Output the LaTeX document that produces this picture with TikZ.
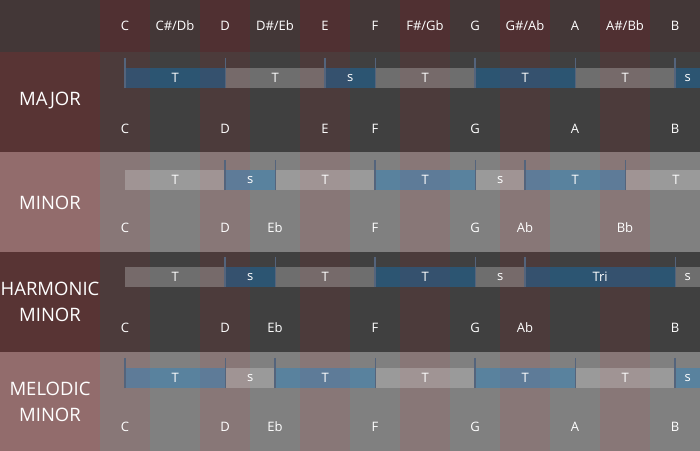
\documentclass[tikz,border=0pt]{standalone}
\usepackage{fontspec}
\setmainfont{Open Sans}
\usetikzlibrary{positioning}
\definecolor{basedark}{RGB}{64,64,64}
\definecolor{baselight}{RGB}{128,128,128}
\definecolor{hdrgray}{RGB}{67,55,55}
\definecolor{hdrred}{RGB}{80,48,50}
\definecolor{lbldark}{RGB}{88,52,52}
\definecolor{lbllight}{RGB}{146,108,108}
\definecolor{stepblue}{RGB}{0,135,230}
\definecolor{stepgray}{RGB}{217,217,217}
\definecolor{tickblue}{RGB}{84,100,124}
\begin{document}
\begin{tikzpicture}[x=1pt, y=-1pt,
  every node/.style={text=white, font=\fontsize{13}{15}\selectfont},
  seg/.style={minimum height=20pt, inner sep=0pt, anchor=north west, fill opacity=0.3, text opacity=1},
  bluestep/.style={seg, fill=stepblue},
  graystep/.style={seg, fill=stepgray},
  tick/.style={draw=tickblue, line width=1.2pt},
  rowlabel/.style={font=\fontsize{18.5}{26}\selectfont, align=center}]
  \useasboundingbox (0,0) rectangle (700,450);
  % backgrounds
  \fill[basedark] (0,0) rectangle (700,450);
  \foreach \y in {152,352} \fill[baselight] (0,\y) rectangle (700,\y+100);
  \foreach \i in {0,2,...,10} \fill[red, opacity=0.065] (100+50*\i,52) rectangle ++(50,400);
  \fill[hdrgray] (0,0) rectangle (700,52);
  \foreach \i in {0,2,...,10} \fill[hdrred] (100+50*\i,0) rectangle ++(50,52);
  \fill[lbldark] (0,52) rectangle (100,152);
  \fill[lbllight] (0,152) rectangle (100,252);
  \fill[lbldark] (0,252) rectangle (100,352);
  \fill[lbllight] (0,352) rectangle (100,452);

  % header
  \foreach \n [count=\i from 0] in {C,C\#/Db,D,D\#/Eb,E,F,F\#/Gb,G,G\#/Ab,A,A\#/Bb,B}
    \node (h\i) at (125+50*\i,26) {\n};

  % row labels
  \node[rowlabel] (major) at (50,101) {MAJOR};
  \node[rowlabel] (minor) at (50,203) {MINOR};
  \node[rowlabel] (harm) at (50,302) {HARMONIC\\MINOR};
  \node[rowlabel] (melo) at (50,402) {MELODIC\\MINOR};

  % major
  \foreach \x/\w/\s/\t [count=\k] in {125/100/bluestep/T, 225/100/graystep/T, 325/50/bluestep/s,
      375/100/graystep/T, 475/100/bluestep/T, 575/100/graystep/T, 675/25/bluestep/s}
    \node[\s, minimum width=\w pt] (maj\k) at (\x,68) {\t};
  \foreach \k in {1,3,5} \draw[tick] (maj\k.south west) -- ++(0,-30) (maj\k.south east) -- ++(0,-30);
  \draw[tick] (maj7.south west) -- ++(0,-30);
  \foreach \c/\n in {0/C,2/D,4/E,5/F,7/G,9/A,11/B}
    \node (majn\c) at (125+50*\c,129) {\n};

  % minor
  \foreach \x/\w/\s/\t [count=\k] in {125/100/graystep/T, 225/50/bluestep/s, 275/100/graystep/T,
      375/100/bluestep/T, 475/50/graystep/s, 525/100/bluestep/T, 625/75/graystep/{}}
    \node[\s, minimum width=\w pt] (min\k) at (\x,170) {\t};
  \node (min7t) at (676,180) {T};
  \foreach \k in {2,4,6} \draw[tick] (min\k.south west) -- ++(0,-30) (min\k.south east) -- ++(0,-30);
  \foreach \c/\n in {0/C,2/D,3/Eb,5/F,7/G,8/Ab,10/Bb}
    \node (minn\c) at (125+50*\c,228) {\n};

  % harmonic minor
  \foreach \x/\w/\s/\t [count=\k] in {125/100/graystep/T, 225/50/bluestep/s, 275/100/graystep/T,
      375/100/bluestep/T, 475/50/graystep/s, 525/150/bluestep/Tri, 675/25/graystep/s}
    \node[\s, minimum width=\w pt] (har\k) at (\x,267) {\t};
  \foreach \k in {2,4,6} \draw[tick] (har\k.south west) -- ++(0,-30) (har\k.south east) -- ++(0,-30);
  \foreach \c/\n in {0/C,2/D,3/Eb,5/F,7/G,8/Ab,11/B}
    \node (harn\c) at (125+50*\c,328) {\n};

  % melodic minor
  \foreach \x/\w/\s/\t [count=\k] in {125/100/bluestep/T, 225/50/graystep/s, 275/100/bluestep/T,
      375/100/graystep/T, 475/100/bluestep/T, 575/100/graystep/T, 675/25/bluestep/s}
    \node[\s, minimum width=\w pt] (mel\k) at (\x,368) {\t};
  \foreach \k in {1,3,5} \draw[tick] (mel\k.south west) -- ++(0,-30) (mel\k.south east) -- ++(0,-30);
  \draw[tick] (mel7.south west) -- ++(0,-30);
  \foreach \c/\n in {0/C,2/D,3/Eb,5/F,7/G,9/A,11/B}
    \node (meln\c) at (125+50*\c,427) {\n};
\end{tikzpicture}
\end{document}
